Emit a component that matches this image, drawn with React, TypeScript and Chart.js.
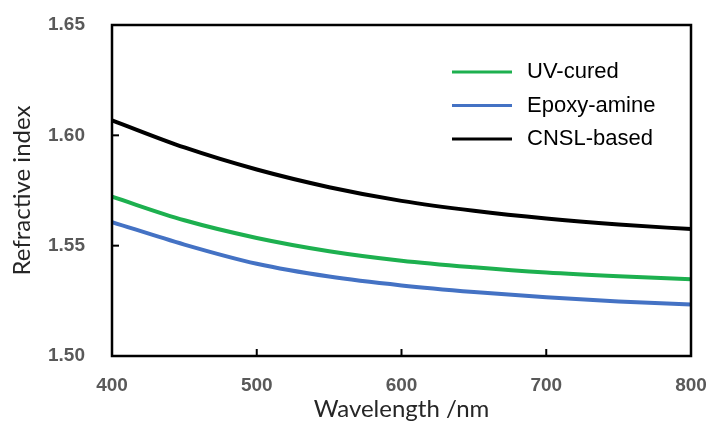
import React, { useEffect, useRef } from "react";
import { Chart, registerables } from "chart.js";

Chart.register(...registerables);

// Wavelength grid (nm) and refractive index of each resin
const wavelengths = [400, 450, 500, 550, 600, 650, 700, 750, 800];
const uvCured = [1.5722, 1.5615, 1.5535, 1.5475, 1.5432, 1.5402, 1.5378, 1.5361, 1.5348];
const epoxyAmine = [1.5607, 1.5505, 1.5418, 1.536, 1.532, 1.529, 1.5266, 1.5247, 1.5233];
const cnslBased = [1.6068, 1.5945, 1.5845, 1.5765, 1.5703, 1.5658, 1.5623, 1.5596, 1.5575];

const seriesLabels = ["UV-cured", "Epoxy-amine", "CNSL-based"];
const seriesColors = ["#1DB04F", "#4472C4", "#000000"];

const xTicks = [400, 500, 600, 700, 800];
const yTicks = [1.5, 1.55, 1.6, 1.65];

const toPoints = (ys: number[]) => wavelengths.map((x, i) => ({ x, y: ys[i] }));

// Box frame, inward tick marks and the in-plot legend
const framePlugin = {
  id: "frameAndLegend",
  afterDatasetsDraw(chart: any) {
    const { ctx, chartArea: a, scales } = chart;
    ctx.save();
    ctx.strokeStyle = "#000";
    ctx.lineWidth = 2.5;
    ctx.strokeRect(a.left, a.top, a.right - a.left, a.bottom - a.top);
    ctx.lineWidth = 2;
    const tick = 7;
    xTicks.forEach((v) => {
      const px = scales.x.getPixelForValue(v);
      ctx.beginPath();
      ctx.moveTo(px, a.bottom);
      ctx.lineTo(px, a.bottom - tick);
      ctx.stroke();
    });
    yTicks.forEach((v) => {
      const py = scales.y.getPixelForValue(v);
      ctx.beginPath();
      ctx.moveTo(a.left, py);
      ctx.lineTo(a.left + tick, py);
      ctx.stroke();
    });
    // legend
    const lx0 = a.left + 340;
    const lx1 = lx0 + 60;
    const ly0 = a.top + 47;
    const gap = 33.5;
    ctx.font = "22px 'Liberation Sans', Arial, sans-serif";
    ctx.textBaseline = "middle";
    ctx.textAlign = "left";
    chart.data.datasets.forEach((ds: any, i: number) => {
      const y = ly0 + i * gap;
      ctx.strokeStyle = ds.borderColor;
      ctx.lineWidth = 3;
      ctx.beginPath();
      ctx.moveTo(lx0, y);
      ctx.lineTo(lx1, y);
      ctx.stroke();
      ctx.fillStyle = "#000";
      ctx.fillText(ds.label, lx1 + 15, y);
    });
    ctx.restore();
  },
};

export default function App() {
  const ref = useRef<HTMLCanvasElement>(null);

  useEffect(() => {
    if (!ref.current) return;
    const datasets = [uvCured, epoxyAmine, cnslBased].map((ys, i) => ({
      label: seriesLabels[i],
      data: toPoints(ys),
      borderColor: seriesColors[i],
      backgroundColor: seriesColors[i],
      borderWidth: 4,
      pointRadius: 0,
      cubicInterpolationMode: "monotone" as const,
      fill: false,
    }));
    const chart = new Chart(ref.current, {
      type: "line",
      data: { datasets },
      options: {
        animation: false,
        responsive: false,
        layout: { padding: { top: 25, right: 21, left: 0, bottom: 0 } },
        plugins: { legend: { display: false }, tooltip: { enabled: false } },
        scales: {
          x: {
            type: "linear",
            min: 400,
            max: 800,
            afterBuildTicks: (s: any) => {
              s.ticks = xTicks.map((v) => ({ value: v }));
            },
            afterFit: (s: any) => {
              s.height = 68;
              s.paddingLeft = 0;
              s.paddingRight = 0;
              s.paddingTop = 0;
              s.paddingBottom = 0;
            },
            grid: { display: false, drawTicks: false },
            border: { display: false },
            ticks: {
              padding: 18,
              color: "#595959",
              font: { family: "'Liberation Sans', Arial, sans-serif", size: 19, weight: "bold" },
            },
            title: {
              display: true,
              text: "Wavelength /nm",
              color: "#262626",
              padding: { top: 0, bottom: 0 },
              font: { family: "Lato, 'Liberation Sans', sans-serif", size: 24 },
            },
          },
          y: {
            min: 1.5,
            max: 1.65,
            afterBuildTicks: (s: any) => {
              s.ticks = yTicks.map((v) => ({ value: v }));
            },
            afterFit: (s: any) => {
              s.width = 112;
              s.paddingLeft = 0;
              s.paddingRight = 0;
              s.paddingTop = 0;
              s.paddingBottom = 0;
            },
            grid: { display: false, drawTicks: false },
            border: { display: false },
            ticks: {
              padding: 27,
              color: "#595959",
              callback: (v: any) => Number(v).toFixed(2),
              font: { family: "'Liberation Sans', Arial, sans-serif", size: 19, weight: "bold" },
            },
            title: {
              display: true,
              text: "Refractive index",
              color: "#262626",
              padding: { top: 8, bottom: 0 },
              font: { family: "Lato, 'Liberation Sans', sans-serif", size: 24 },
            },
          },
        },
      },
      plugins: [framePlugin],
    });
    return () => chart.destroy();
  }, []);

  return (
    <div style={{ position: "fixed", left: 0, top: 0, width: 712, height: 424, background: "#fff" }}>
      <canvas ref={ref} width={712} height={424} />
    </div>
  );
}
